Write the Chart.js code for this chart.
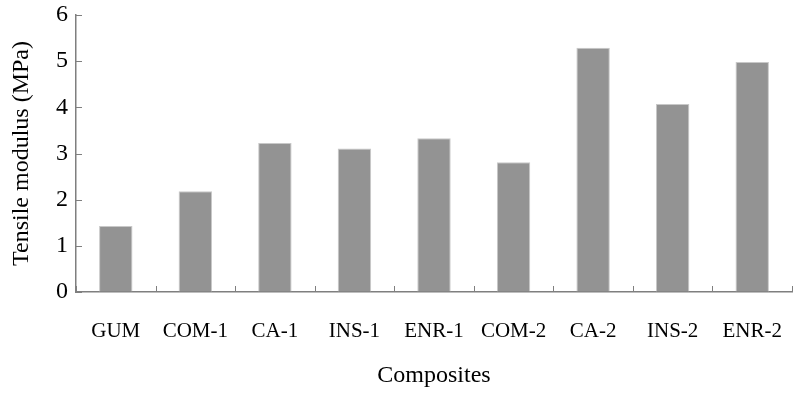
<!DOCTYPE html>
<html><head><meta charset="utf-8">
<script src="https://cdn.jsdelivr.net/npm/chart.js@4"></script>
<style>html,body{margin:0;padding:0;background:#fff}#wrap{width:794px;height:394px}</style>
</head><body><div id="wrap"><canvas id="c" width="794" height="394"></canvas></div>
<script>
const categories = ["GUM","COM-1","CA-1","INS-1","ENR-1","COM-2","CA-2","INS-2","ENR-2"];
const modulus = [1.43, 2.18, 3.23, 3.11, 3.33, 2.81, 5.29, 4.07, 4.98];
const yTicks = [0,1,2,3,4,5,6];

const innerTicks = {
  id:'innerTicks',
  afterDatasetsDraw(chart){
    const ctx = chart.ctx, x = chart.scales.x, y = chart.scales.y;
    ctx.save();
    ctx.strokeStyle = '#7f7f7f'; ctx.lineWidth = 1;
    ctx.beginPath();
    yTicks.forEach(v=>{ const py = Math.round(y.getPixelForValue(v))+0.5; ctx.moveTo(x.left, py); ctx.lineTo(x.left+6, py); });
    for(let i=0;i<=categories.length;i++){
      const px = Math.round(x.getPixelForValue(i-0.5))+0.5;
      ctx.moveTo(px, y.bottom); ctx.lineTo(px, y.bottom-6);
    }
    ctx.stroke();
    ctx.restore();
  }
};

new Chart(document.getElementById('c'), {
  type:'bar',
  data:{ labels:categories, datasets:[{ data:modulus, backgroundColor:'#939393', borderColor:'#c8c8c8', borderWidth:{left:1,right:1,top:1,bottom:0}, barPercentage:0.42, categoryPercentage:1 }]},
  options:{
    responsive:false, animation:false, devicePixelRatio:1,
    layout:{padding:{top:15,right:2,left:7,bottom:0}},
    plugins:{legend:{display:false}, tooltip:{enabled:false}},
    scales:{
      x:{
        offset:true,
        grid:{display:true, drawOnChartArea:false, drawTicks:false},
        border:{color:'#7f7f7f', width:1.5},
        ticks:{color:'#000', font:{family:'Liberation Serif', size:21}, padding:27, maxRotation:0, autoSkip:false},
        title:{display:true, text:'Composites', color:'#000', font:{family:'Liberation Serif', size:24}, padding:{top:14}},
        afterFit(s){ s.height = 102; s.paddingLeft = 0; s.paddingRight = 0; }
      },
      y:{
        min:0, max:6,
        afterBuildTicks(s){ s.ticks = yTicks.map(v=>({value:v})); },
        grid:{display:true, drawOnChartArea:false, drawTicks:false},
        border:{color:'#7f7f7f', width:1.5},
        ticks:{color:'#000', font:{family:'Liberation Serif', size:24}, padding:8},
        title:{display:true, text:'Tensile modulus (MPa)', color:'#000', font:{family:'Liberation Serif', size:24}, padding:{top:0,bottom:2}},
        afterFit(s){ s.width = 69; s.paddingTop = 0; s.paddingBottom = 0; }
      }
    }
  },
  plugins:[innerTicks]
});
</script></body></html>
